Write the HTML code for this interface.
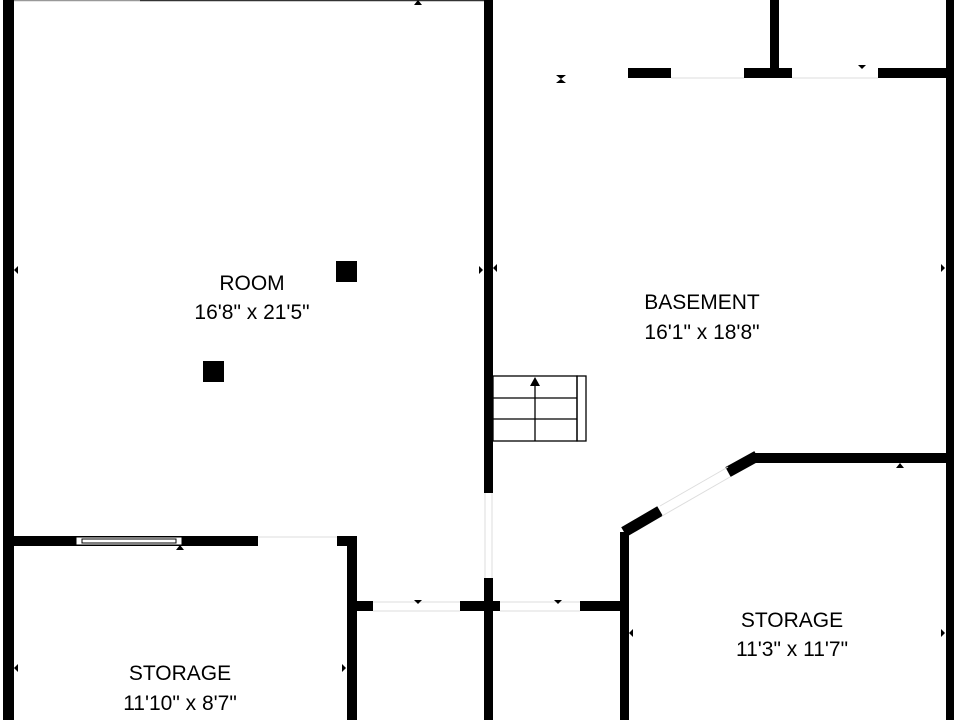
<!DOCTYPE html>
<html><head><meta charset="utf-8"><style>
html,body{margin:0;padding:0;background:#fff;width:960px;height:720px;overflow:hidden}
text{font-family:"Liberation Sans",sans-serif;font-size:21px;fill:#000;text-anchor:middle}
</style></head><body>
<svg width="960" height="720" viewBox="0 0 960 720" xmlns="http://www.w3.org/2000/svg">
<rect width="960" height="720" fill="#fff"/>
<line x1="14" y1="0.5" x2="140" y2="0.5" stroke="#999" stroke-width="1.5"/>
<line x1="140" y1="0.5" x2="484" y2="0.5" stroke="#333" stroke-width="1.5"/>
<rect x="3" y="0" width="11" height="720" fill="#000"/>
<rect x="484" y="0" width="9" height="493" fill="#000"/>
<rect x="484" y="578" width="9" height="142" fill="#000"/>
<line x1="485" y1="493" x2="485" y2="578" stroke="#ddd"/><line x1="492" y1="493" x2="492" y2="578" stroke="#ddd"/>
<rect x="946" y="0" width="8" height="720" fill="#000"/>
<rect x="628" y="68" width="43" height="10" fill="#000"/>
<rect x="744" y="68" width="48" height="10" fill="#000"/>
<rect x="878" y="68" width="68" height="10" fill="#000"/>
<rect x="770" y="0" width="9" height="70" fill="#000"/>
<line x1="671" y1="78" x2="744" y2="78" stroke="#ddd"/><line x1="792" y1="78" x2="878" y2="78" stroke="#ddd"/>
<polygon points="858,65 866,65 862,69" fill="#000"/>
<polygon points="556,75 566,75 561,79" fill="#000"/><polygon points="556,83 566,83 561,79" fill="#000"/>
<g stroke="#000" stroke-width="1.3" fill="none">
<rect x="493" y="376" width="84" height="65"/>
<rect x="577" y="376" width="9" height="65"/>
<line x1="493" y1="398" x2="577" y2="398"/><line x1="493" y1="419" x2="577" y2="419"/>
<line x1="535" y1="384" x2="535" y2="441"/>
</g>
<polygon points="530,386 540,386 535,377" fill="#000"/>
<rect x="620" y="532" width="9" height="188" fill="#000"/>
<line x1="624" y1="532" x2="660" y2="511" stroke="#000" stroke-width="11"/>
<line x1="728" y1="472" x2="757" y2="456" stroke="#000" stroke-width="11"/>
<line x1="660" y1="506" x2="728" y2="467" stroke="#ddd"/><line x1="662" y1="516" x2="730" y2="477" stroke="#ddd"/>
<rect x="755" y="453" width="191" height="10" fill="#000"/>
<polygon points="896,468 904,468 900,463" fill="#000"/>
<rect x="348" y="601" width="25" height="10" fill="#000"/>
<rect x="460" y="601" width="40" height="10" fill="#000"/>
<rect x="580" y="601" width="49" height="10" fill="#000"/>
<line x1="373" y1="602" x2="460" y2="602" stroke="#ddd"/><line x1="373" y1="611" x2="460" y2="611" stroke="#ddd"/>
<line x1="500" y1="602" x2="580" y2="602" stroke="#ddd"/><line x1="500" y1="611" x2="580" y2="611" stroke="#ddd"/>
<polygon points="414,600 422,600 418,604" fill="#000"/><polygon points="554,600 562,600 558,604" fill="#000"/>
<rect x="14" y="536" width="244" height="10" fill="#000"/>
<rect x="76" y="537" width="106" height="8" fill="#fff" stroke="#000" stroke-width="1"/>
<rect x="82" y="539" width="94" height="4" fill="#fff" stroke="#000" stroke-width="1"/>
<polygon points="176,550 184,550 180,545" fill="#000"/>
<line x1="258" y1="537" x2="337" y2="537" stroke="#ddd"/>
<rect x="337" y="536" width="20" height="10" fill="#000"/>
<rect x="347" y="536" width="10" height="184" fill="#000"/>
<rect x="336" y="261" width="21" height="21" fill="#000"/>
<rect x="203" y="361" width="21" height="21" fill="#000"/>
<polygon points="414,5 422,5 418,0" fill="#000"/>
<polygon points="14,270 18,266 18,274" fill="#000"/><polygon points="483,270 479,266 479,274" fill="#000"/>
<polygon points="493,268 497,264 497,272" fill="#000"/><polygon points="945,268 941,264 941,272" fill="#000"/>
<polygon points="14,668 18,664 18,672" fill="#000"/><polygon points="346,668 342,664 342,672" fill="#000"/>
<polygon points="629,633 633,629 633,637" fill="#000"/><polygon points="945,633 941,629 941,637" fill="#000"/>
<text x="252" y="290">ROOM</text><text x="252" y="319">16'8" x 21'5"</text>
<text x="702" y="309">BASEMENT</text><text x="702" y="339">16'1" x 18'8"</text>
<text x="792" y="627">STORAGE</text><text x="792" y="656">11'3" x 11'7"</text>
<text x="180" y="680">STORAGE</text><text x="180" y="710">11'10" x 8'7"</text>
</svg>
</body></html>
